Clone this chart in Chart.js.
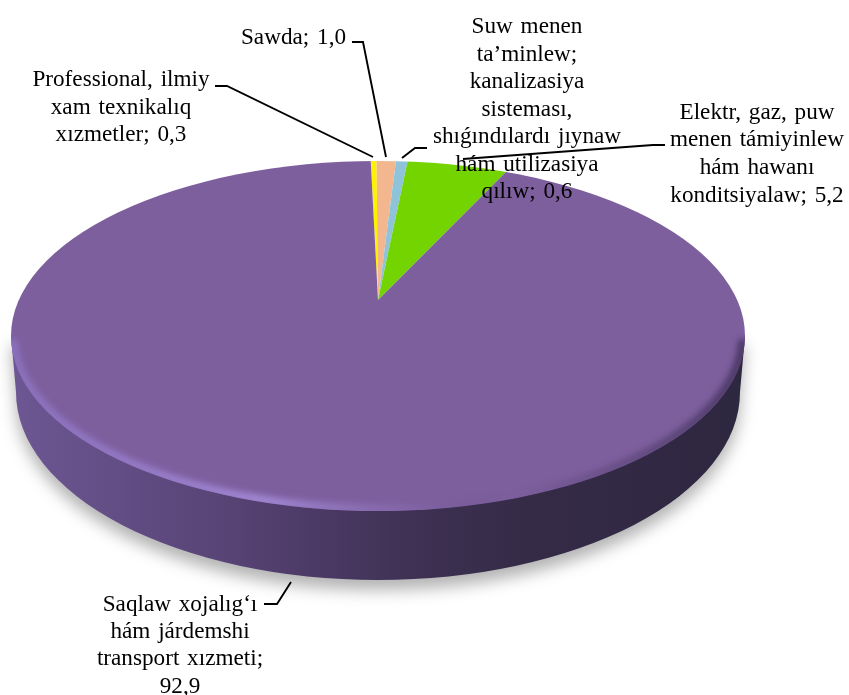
<!DOCTYPE html>
<html lang="en">
<head>
  <meta charset="UTF-8" />
  <title>Pie chart</title>
  <script src="https://cdn.jsdelivr.net/npm/chart.js"></script>
  <style>
    body { margin: 0; background: #fff; }
    canvas { display: block; }
  </style>
</head>
<body>
  <canvas id="pie" width="849" height="695"></canvas>

  <script>
    const categories = [
      'Professional, ilmiy xam texnikalıq xızmetler',
      'Sawda',
      'Suw menen ta’minlew; kanalizasiya sisteması, shıǵındılardı jıynaw hám utilizasiya qılıw',
      'Elektr, gaz, puw menen támiyinlew hám hawanı konditsiyalaw',
      'Saqlaw xojalıg‘ı hám járdemshi transport xızmeti'
    ];
    const values = [0.3, 1.0, 0.6, 5.2, 92.9];
    const sliceColors = ['#fff200', '#f2b78e', '#8fc3da', '#74d400', '#7d5f9e'];

    // wrapped label text, {v} is swapped for the value
    const labelLines = [
      ['Professional, ilmiy', 'xam texnikalıq', 'xızmetler; {v}'],
      ['Sawda; {v}'],
      ['Suw menen', 'ta’minlew;', 'kanalizasiya', 'sisteması,', 'shıǵındılardı jıynaw', 'hám utilizasiya', 'qılıw; {v}'],
      ['Elektr, gaz, puw', 'menen támiyinlew', 'hám hawanı', 'konditsiyalaw; {v}'],
      ['Saqlaw xojalıg‘ı', 'hám járdemshi', 'transport xızmeti;', '{v}']
    ];
    // x, first baseline, line height
    const labelPos = [
      [121, 86, 27.5],
      [293.5, 44, 27.5],
      [527, 33, 27.5],
      [757, 118.5, 27.7],
      [180, 610.5, 27.4]
    ];
    const leaders = [
      [[215, 86], [227, 86], [373, 157]],
      [[352, 42], [363, 42], [386, 157]],
      [[427, 148], [415, 148], [402, 158]],
      [[665, 145], [653, 145], [463, 159]],
      [[264, 604], [277, 604], [291, 582]]
    ];

    // picture geometry of the tilted disc
    const squash = 0.45;
    const topFace = { x: 378, y: 336, rx: 367, ry: 175 };
    const base = { x: 378, y: 392, rx: 362, ry: 188 };

    function bodyPath(ctx) {
      ctx.beginPath();
      ctx.moveTo(topFace.x - topFace.rx, topFace.y);
      ctx.lineTo(base.x - base.rx, base.y);
      ctx.ellipse(base.x, base.y, base.rx, base.ry, 0, Math.PI, 0, true);
      ctx.lineTo(topFace.x + topFace.rx, topFace.y);
      ctx.closePath();
    }

    const discPlugin = {
      id: 'disc',
      beforeDatasetsDraw(chart) {
        const ctx = chart.ctx;
        const arc = chart.getDatasetMeta(0).data[0];

        // side wall with its soft shadow
        const wall = ctx.createLinearGradient(11, 0, 745, 0);
        wall.addColorStop(0, '#6d5794');
        wall.addColorStop(0.12, '#644f87');
        wall.addColorStop(0.27, '#5a4578');
        wall.addColorStop(0.41, '#4c3a66');
        wall.addColorStop(0.55, '#3e3153');
        wall.addColorStop(0.7, '#352b47');
        wall.addColorStop(1, '#2e2740');
        ctx.save();
        ctx.shadowColor = 'rgba(0,0,0,0.3)';
        ctx.shadowBlur = 16;
        ctx.shadowOffsetY = 10;
        ctx.fillStyle = wall;
        bodyPath(ctx);
        ctx.fill();
        ctx.restore();

        // the slices are drawn by Chart.js, squashed and cut to the top face
        ctx.save();
        ctx.beginPath();
        ctx.ellipse(topFace.x, topFace.y, topFace.rx, topFace.ry, 0, 0, Math.PI * 2);
        ctx.clip();
        ctx.translate(arc.x, arc.y);
        ctx.scale(1, squash);
        ctx.translate(-arc.x, -arc.y);
      },
      afterDatasetsDraw(chart) {
        const ctx = chart.ctx;
        ctx.restore();

        // bevel along the near edge of the top face
        const bevel = ctx.createLinearGradient(11, 0, 745, 0);
        bevel.addColorStop(0, 'rgba(150,125,210,0.6)');
        bevel.addColorStop(0.35, 'rgba(170,145,225,0.85)');
        bevel.addColorStop(0.55, 'rgba(150,125,200,0.2)');
        bevel.addColorStop(0.68, 'rgba(40,30,60,0)');
        bevel.addColorStop(1, 'rgba(30,22,50,0.55)');
        ctx.save();
        ctx.beginPath();
        ctx.ellipse(topFace.x, topFace.y, topFace.rx, topFace.ry, 0, 0, Math.PI * 2);
        ctx.clip();
        ctx.filter = 'blur(3px)';
        ctx.strokeStyle = bevel;
        ctx.lineWidth = 9;
        ctx.beginPath();
        ctx.ellipse(topFace.x, topFace.y, topFace.rx - 2, topFace.ry - 2, 0, 0.02, Math.PI - 0.02);
        ctx.stroke();
        ctx.restore();

        // leader lines
        ctx.save();
        ctx.strokeStyle = '#000';
        ctx.lineWidth = 1.9;
        leaders.forEach(pts => {
          ctx.beginPath();
          pts.forEach((p, i) => i ? ctx.lineTo(p[0], p[1]) : ctx.moveTo(p[0], p[1]));
          ctx.stroke();
        });

        // labels
        ctx.fillStyle = '#000';
        ctx.font = '23.2px "Liberation Serif", serif';
        ctx.textAlign = 'center';
        ctx.textBaseline = 'alphabetic';
        ctx.wordSpacing = '2px';
        labelLines.forEach((lines, i) => {
          const [x, y, lh] = labelPos[i];
          const v = values[i].toFixed(1).replace('.', ',');
          lines.forEach((line, j) => {
            ctx.fillText(line.replace('{v}', v), x, y + j * lh);
          });
        });
        ctx.restore();
      }
    };

    new Chart(document.getElementById('pie'), {
      type: 'pie',
      data: {
        labels: categories,
        datasets: [{
          data: values,
          backgroundColor: sliceColors,
          borderWidth: 0,
          clip: false
        }]
      },
      options: {
        responsive: false,
        animation: false,
        rotation: -1.35,
        radius: 700,
        layout: { padding: { left: 0, right: 93, top: 0, bottom: 95 } },
        plugins: {
          legend: { display: false },
          tooltip: { enabled: false }
        }
      },
      plugins: [discPlugin]
    });
  </script>
</body>
</html>
